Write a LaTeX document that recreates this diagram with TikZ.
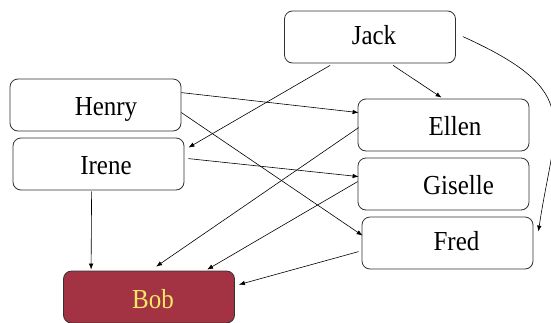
\documentclass[tikz,border=0pt]{standalone}
\usepackage{fontspec}
\setmainfont{Liberation Serif}
\usetikzlibrary{arrows.meta,calc}
\definecolor{bobred}{RGB}{163,50,66}
\definecolor{bobtext}{RGB}{245,232,100}
\definecolor{edgegray}{RGB}{50,50,50}
\newcommand{\nmtxt}[1]{\scalebox{1}[1.1]{#1}}
\begin{document}
\begin{tikzpicture}[x=1pt,y=-1pt,
  box/.style={draw=edgegray,line width=0.8pt,rounded corners=8pt,minimum width=171pt,minimum height=52pt,inner sep=0pt,fill=white},
  lbl/.style={font=\fontsize{25}{30}\selectfont,inner sep=0pt},
  conn/.style={line width=0.6pt,-{Latex[length=6pt,width=4.5pt]}}]
\useasboundingbox (0,0) rectangle (551,322);
\node[box,label={[lbl,xshift=10.5pt,yshift=-4pt]center:\nmtxt{Henry}}] (henry) at (95.5,105) {};
\node[box,label={[lbl,xshift=7.5pt,yshift=-2pt]center:\nmtxt{Irene}}] (irene) at (98.5,164) {};
\node[box,fill=bobred,label={[lbl,text=bobtext,xshift=4pt,yshift=-2pt]center:\nmtxt{Bob}}] (bob) at (149,297) {};
\node[box,label={[lbl,xshift=4pt,yshift=2pt]center:\nmtxt{Jack}}] (jack) at (370,37) {};
\node[box,label={[lbl,xshift=11.5pt,yshift=-1pt]center:\nmtxt{Ellen}}] (ellen) at (443.5,125) {};
\node[box,label={[lbl,xshift=15pt,yshift=-1pt]center:\nmtxt{Giselle}}] (giselle) at (443.5,184) {};
\node[box,label={[lbl,xshift=9pt,yshift=2pt]center:\nmtxt{Fred}}] (fred) at (447.5,243) {};
\draw[conn] ($(henry.north east)+(0,14)$) -- ($(ellen.north west)+(1,14)$);
\draw[conn] ($(henry.north east)+(0,34)$) -- ($(fred.north west)+(1,19)$);
\draw[conn] ($(jack.south west)+(46,2)$) -- ($(irene.north east)+(4,10)$);
\draw[conn] ($(jack.south west)+(109,2)$) -- ($(ellen.north west)+(84,-1)$);
\draw[conn] ($(irene.north east)+(4,21)$) -- ($(giselle.north west)+(1,19)$);
\draw[conn] ($(irene.south west)+(79,1)$) -- ($(bob.north west)+(28,-1)$);
\draw[conn] ($(ellen.north west)+(1,29)$) -- ($(bob.north west)+(93,-4)$);
\draw[conn] ($(giselle.north west)+(0,24)$) -- ($(bob.north west)+(144,-1)$);
\draw[conn] ($(fred.north west)+(-3,35)$) -- ($(bob.north east)+(4,14)$);
\draw[conn] ($(jack.north east)+(7,26)$) .. controls (585,92) and (555,120) .. ($(fred.north east)+(5,15)$);
\end{tikzpicture}
\end{document}
